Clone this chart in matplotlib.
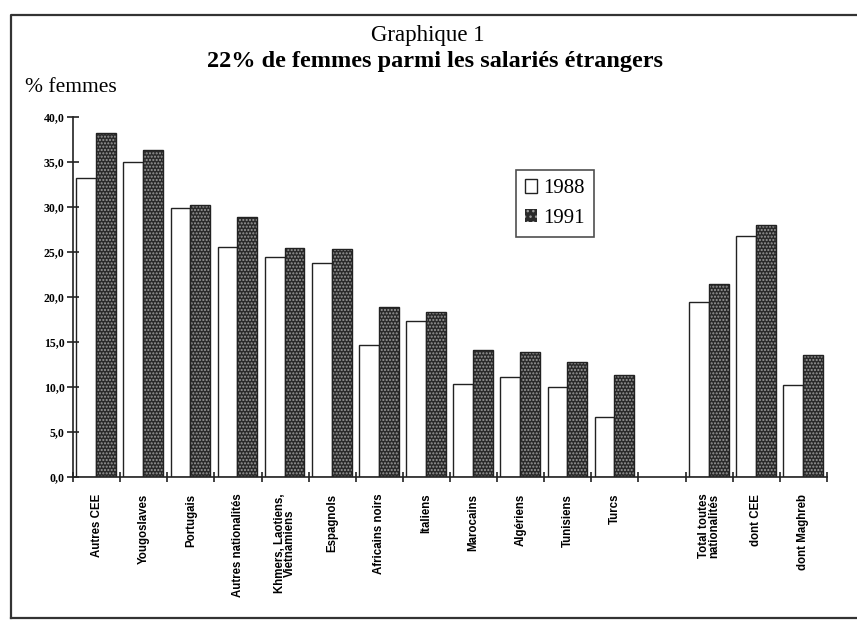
#!/usr/bin/env python3

import numpy as np
import matplotlib
matplotlib.use('Agg')
import matplotlib.pyplot as plt
from matplotlib.patches import Patch
from matplotlib.lines import Line2D

# categories (an empty slot separates the nationalities from the totals)
categories = ['Autres CEE', 'Yougoslaves', 'Portugais', 'Autres nationalités',
              'Khmers, Laotiens,\nVietnamiens', 'Espagnols', 'Africains noirs',
              'Italiens', 'Marocains', 'Algériens', 'Tunisiens', 'Turcs', '',
              'Total toutes\nnationalités', 'dont CEE', 'dont Maghreb']
vals_1988 = [33.2, 35.0, 29.9, 25.6, 24.4, 23.8, 14.7, 17.3, 10.3, 11.1, 10.0, 6.7,
             np.nan, 19.5, 26.8, 10.2]
vals_1991 = [38.2, 36.3, 30.2, 28.9, 25.4, 25.3, 18.9, 18.3, 14.1, 13.9, 12.8, 11.3,
             np.nan, 21.4, 28.0, 13.6]
yticks = [0, 5, 10, 15, 20, 25, 30, 35, 40]
ytick_labels = ['0,0', '5,0', '10,0', '15,0', '20,0', '25,0', '30,0', '35,0', '40,0']

serif = 'Liberation Serif'
plt.rcParams['hatch.linewidth'] = 1.0

fig = plt.figure(figsize=(8.57, 6.21), dpi=100)
ax = fig.add_axes([73/857, 1-477/621, (827-73)/857, (477-117)/621])

x = np.arange(len(categories))
w = 0.42
dark = '#2a2a2a'
dots = '#9a9a9a'
# 1988: empty bars
ax.bar(x - w/2 - 0.01, vals_1988, width=w, facecolor='white', edgecolor='#222222', linewidth=1.0)
# 1991: dotted dark bars
ax.bar(x + w/2 - 0.01, vals_1991, width=w, facecolor=dark, edgecolor=dots,
       hatch='.....', linewidth=0)
ax.bar(x + w/2 - 0.01, vals_1991, width=w, facecolor='none', edgecolor='#222222', linewidth=1.0)

ax.set_xlim(-0.5, len(categories) - 0.5)
ax.set_ylim(0, 40)

for s in ['top', 'right']:
    ax.spines[s].set_visible(False)
ax.spines['left'].set_linewidth(1.2)
ax.spines['bottom'].set_linewidth(1.2)
ax.spines['left'].set_color('#222222')
ax.spines['bottom'].set_color('#222222')

ax.set_yticks(yticks)
ax.set_yticklabels(ytick_labels, fontfamily=serif, fontsize=8.5, fontweight='bold')
ax.tick_params(axis='y', direction='inout', length=8, width=1.2, pad=2, color='#222222')

# category separators as minor ticks, labels on the major ones
ax.set_xticks(np.arange(len(categories) + 1) - 0.5, minor=True)
ax.set_xticks(x)
ax.set_xticklabels(categories, rotation=90, va='top', ha='center',
                   fontfamily='Liberation Sans', fontsize=8.3, fontweight='bold',
                   linespacing=0.85)
ax.tick_params(axis='x', which='major', length=0, pad=12)
ax.tick_params(axis='x', which='minor', direction='inout', length=7, width=1.2, color='#222222')

# legend
h1 = Patch(facecolor='white', edgecolor='#222222', linewidth=1.0)
h2 = Patch(facecolor=dark, edgecolor=dots, hatch='...', linewidth=0)
leg = ax.legend([h1, h2], ['1988', '1991'], loc='upper left',
                bbox_to_anchor=((516-73)/754, (477-170)/360),
                prop={'family': serif, 'size': 15}, fancybox=False, frameon=True,
                handlelength=0.55, handleheight=0.6, handletextpad=0.3,
                borderpad=0.45, labelspacing=0.5, borderaxespad=0)
leg.get_frame().set_edgecolor('#222222')
leg.get_frame().set_linewidth(1.2)

# titles
fig.text(428/857, 1-35/621, 'Graphique 1', ha='center', va='center',
         fontfamily=serif, fontsize=16.5)
fig.text(435/857, 1-61/621, '22% de femmes parmi les salariés étrangers', ha='center',
         va='center', fontfamily=serif, fontsize=17.5, fontweight='bold')
fig.text(25/857, 1-88/621, '% femmes', ha='left', va='center',
         fontfamily=serif, fontsize=15.5)

# scanned page frame
fig.add_artist(Line2D([11/857, 11/857, 1.0], [1-618/621, 1-15/621, 1-15/621],
                      transform=fig.transFigure, color='#333333', linewidth=1.6))
fig.add_artist(Line2D([11/857, 1.0], [1-618/621, 1-618/621],
                      transform=fig.transFigure, color='#333333', linewidth=1.6))

fig.savefig('out.png', dpi=100)
plt.close()
